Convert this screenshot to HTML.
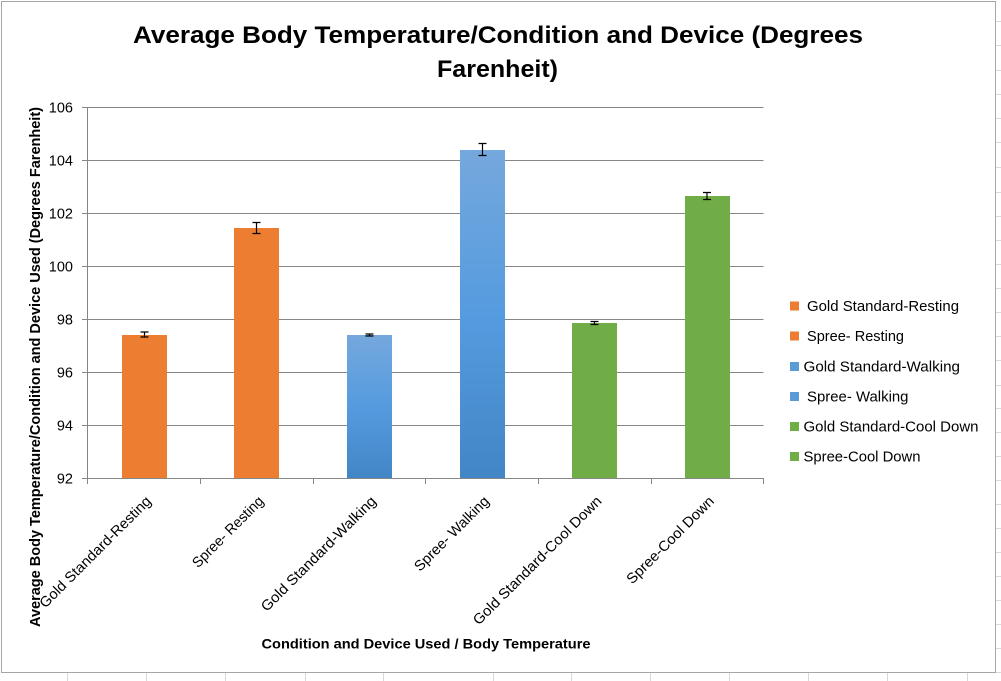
<!DOCTYPE html>
<html><head><meta charset="utf-8">
<style>
html,body{margin:0;padding:0;background:#fff;}
svg{display:block;}
text{font-family:"Liberation Sans",Arial,sans-serif;}
</style></head>
<body>
<svg width="1001" height="681" viewBox="0 0 1001 681" xmlns="http://www.w3.org/2000/svg">
<defs>
<linearGradient id="blue" x1="0" y1="0" x2="0" y2="1">
<stop offset="0" stop-color="#75a8dd"/>
<stop offset="0.5" stop-color="#559bdf"/>
<stop offset="1" stop-color="#4286c6"/>
</linearGradient>
</defs>
<rect x="0" y="0" width="1001" height="681" fill="#fff"/>
<g stroke="#d9d9d9" stroke-width="1">
<line x1="996" y1="21.5" x2="1001" y2="21.5"/><line x1="996" y1="45.5" x2="1001" y2="45.5"/>
<line x1="996" y1="70.5" x2="1001" y2="70.5"/><line x1="996" y1="94.5" x2="1001" y2="94.5"/>
<line x1="996" y1="118.5" x2="1001" y2="118.5"/><line x1="996" y1="142.5" x2="1001" y2="142.5"/>
<line x1="996" y1="167.5" x2="1001" y2="167.5"/><line x1="996" y1="192.5" x2="1001" y2="192.5"/>
<line x1="996" y1="216.5" x2="1001" y2="216.5"/><line x1="996" y1="240.5" x2="1001" y2="240.5"/>
<line x1="996" y1="264.5" x2="1001" y2="264.5"/><line x1="996" y1="288.5" x2="1001" y2="288.5"/>
<line x1="996" y1="312.5" x2="1001" y2="312.5"/><line x1="996" y1="336.5" x2="1001" y2="336.5"/>
<line x1="996" y1="360.5" x2="1001" y2="360.5"/><line x1="996" y1="385.5" x2="1001" y2="385.5"/>
<line x1="996" y1="408.5" x2="1001" y2="408.5"/><line x1="996" y1="432.5" x2="1001" y2="432.5"/>
<line x1="996" y1="456.5" x2="1001" y2="456.5"/><line x1="996" y1="480.5" x2="1001" y2="480.5"/>
<line x1="996" y1="504.5" x2="1001" y2="504.5"/><line x1="996" y1="528.5" x2="1001" y2="528.5"/>
<line x1="996" y1="552.5" x2="1001" y2="552.5"/><line x1="996" y1="576.5" x2="1001" y2="576.5"/>
<line x1="996" y1="600.5" x2="1001" y2="600.5"/><line x1="996" y1="624.5" x2="1001" y2="624.5"/>
<line x1="996" y1="648.5" x2="1001" y2="648.5"/><line x1="996" y1="672.5" x2="1001" y2="672.5"/>
<line x1="67.5" y1="673" x2="67.5" y2="681"/><line x1="146.5" y1="673" x2="146.5" y2="681"/>
<line x1="225.5" y1="673" x2="225.5" y2="681"/><line x1="305.5" y1="673" x2="305.5" y2="681"/>
<line x1="383.5" y1="673" x2="383.5" y2="681"/><line x1="493.5" y1="673" x2="493.5" y2="681"/>
<line x1="571.5" y1="673" x2="571.5" y2="681"/><line x1="650.5" y1="673" x2="650.5" y2="681"/>
<line x1="729.5" y1="673" x2="729.5" y2="681"/><line x1="808.5" y1="673" x2="808.5" y2="681"/>
<line x1="887.5" y1="673" x2="887.5" y2="681"/><line x1="967.5" y1="673" x2="967.5" y2="681"/>
</g>
<rect x="1.5" y="1.5" width="994" height="671" fill="#fff" stroke="#a6a6a6" stroke-width="1"/>

<text x="498" y="43" font-size="24" font-weight="bold" text-anchor="middle" textLength="730" lengthAdjust="spacingAndGlyphs" fill="#000">Average Body Temperature/Condition and Device (Degrees</text>
<text x="497.5" y="77" font-size="24" font-weight="bold" text-anchor="middle" textLength="121" lengthAdjust="spacingAndGlyphs" fill="#000">Farenheit)</text>

<g stroke="#868686" stroke-width="1">
<line x1="82" y1="107.5" x2="763.5" y2="107.5"/>
<line x1="82" y1="160.5" x2="763.5" y2="160.5"/>
<line x1="82" y1="213.5" x2="763.5" y2="213.5"/>
<line x1="82" y1="266.5" x2="763.5" y2="266.5"/>
<line x1="82" y1="319.5" x2="763.5" y2="319.5"/>
<line x1="82" y1="372.5" x2="763.5" y2="372.5"/>
<line x1="82" y1="425.5" x2="763.5" y2="425.5"/>
<line x1="82" y1="478.5" x2="763.5" y2="478.5"/>
<line x1="87.5" y1="107" x2="87.5" y2="484"/>
<line x1="200.5" y1="478" x2="200.5" y2="484"/>
<line x1="313.5" y1="478" x2="313.5" y2="484"/>
<line x1="425.5" y1="478" x2="425.5" y2="484"/>
<line x1="538.5" y1="478" x2="538.5" y2="484"/>
<line x1="651.5" y1="478" x2="651.5" y2="484"/>
<line x1="763.5" y1="478" x2="763.5" y2="484"/>
</g>

<g font-size="14.5" text-anchor="end" fill="#000">
<text x="73" y="112.5">106</text>
<text x="73" y="165.5">104</text>
<text x="73" y="218.5">102</text>
<text x="73" y="271.5">100</text>
<text x="73" y="324.5">98</text>
<text x="73" y="377.5">96</text>
<text x="73" y="430.5">94</text>
<text x="73" y="483.5">92</text>
</g>

<rect x="122" y="335" width="45" height="143" fill="#ed7d31"/>
<rect x="234" y="228" width="45" height="250" fill="#ed7d31"/>
<rect x="347" y="335" width="45" height="143" fill="url(#blue)"/>
<rect x="460" y="150" width="45" height="328" fill="url(#blue)"/>
<rect x="572" y="323" width="45" height="155" fill="#70ad47"/>
<rect x="685" y="196" width="45" height="282" fill="#70ad47"/>

<g stroke="#000" stroke-width="1.2" fill="none">
<path d="M144.5 332 V337 M140.5 332 H148.5 M140.5 337 H148.5"/>
<path d="M256.5 222.5 V233.5 M252.5 222.5 H260.5 M252.5 233.5 H260.5"/>
<path d="M369.5 334 V336 M365.5 334 H373.5 M365.5 336 H373.5"/>
<path d="M482.5 143.5 V155.5 M478.5 143.5 H486.5 M478.5 155.5 H486.5"/>
<path d="M594.5 321.5 V324.5 M590.5 321.5 H598.5 M590.5 324.5 H598.5"/>
<path d="M707 192.5 V199.5 M703 192.5 H711 M703 199.5 H711"/>
</g>

<g font-size="14.5" text-anchor="end" fill="#000">
<text transform="translate(152,502) rotate(-45)" textLength="151" lengthAdjust="spacingAndGlyphs">Gold Standard-Resting</text>
<text transform="translate(264.5,502) rotate(-45)" textLength="94" lengthAdjust="spacingAndGlyphs">Spree- Resting</text>
<text transform="translate(377,502) rotate(-45)" textLength="156" lengthAdjust="spacingAndGlyphs">Gold Standard-Walking</text>
<text transform="translate(490,502) rotate(-45)" textLength="99" lengthAdjust="spacingAndGlyphs">Spree- Walking</text>
<text transform="translate(602.5,502) rotate(-45)" textLength="175" lengthAdjust="spacingAndGlyphs">Gold Standard-Cool Down</text>
<text transform="translate(715,502) rotate(-45)" textLength="117" lengthAdjust="spacingAndGlyphs">Spree-Cool Down</text>
</g>

<text x="426" y="648.5" font-size="14" font-weight="bold" text-anchor="middle" textLength="329" lengthAdjust="spacingAndGlyphs" fill="#000">Condition and Device Used / Body Temperature</text>
<text transform="translate(40,367) rotate(-90)" font-size="15" font-weight="bold" text-anchor="middle" textLength="520" lengthAdjust="spacingAndGlyphs" fill="#000">Average Body Temperature/Condition and Device Used (Degrees Farenheit)</text>

<rect x="790" y="301.5" width="9" height="9" fill="#ed7d31"/>
<rect x="790" y="331.5" width="9" height="9" fill="#ed7d31"/>
<rect x="790" y="362" width="9" height="9" fill="#5b9bd5"/>
<rect x="790" y="392" width="9" height="9" fill="#5b9bd5"/>
<rect x="790" y="422" width="9" height="9" fill="#70ad47"/>
<rect x="790" y="452" width="9" height="9" fill="#70ad47"/>
<g font-size="14.5" fill="#000">
<text x="807" y="311" textLength="152" lengthAdjust="spacingAndGlyphs">Gold Standard-Resting</text>
<text x="807" y="341" textLength="97" lengthAdjust="spacingAndGlyphs">Spree- Resting</text>
<text x="803.5" y="371.5" textLength="156.5" lengthAdjust="spacingAndGlyphs">Gold Standard-Walking</text>
<text x="807" y="401.5" textLength="101.5" lengthAdjust="spacingAndGlyphs">Spree- Walking</text>
<text x="803.5" y="431.5" textLength="175" lengthAdjust="spacingAndGlyphs">Gold Standard-Cool Down</text>
<text x="803.5" y="461.5" textLength="117" lengthAdjust="spacingAndGlyphs">Spree-Cool Down</text>
</g>
</svg>
</body></html>
